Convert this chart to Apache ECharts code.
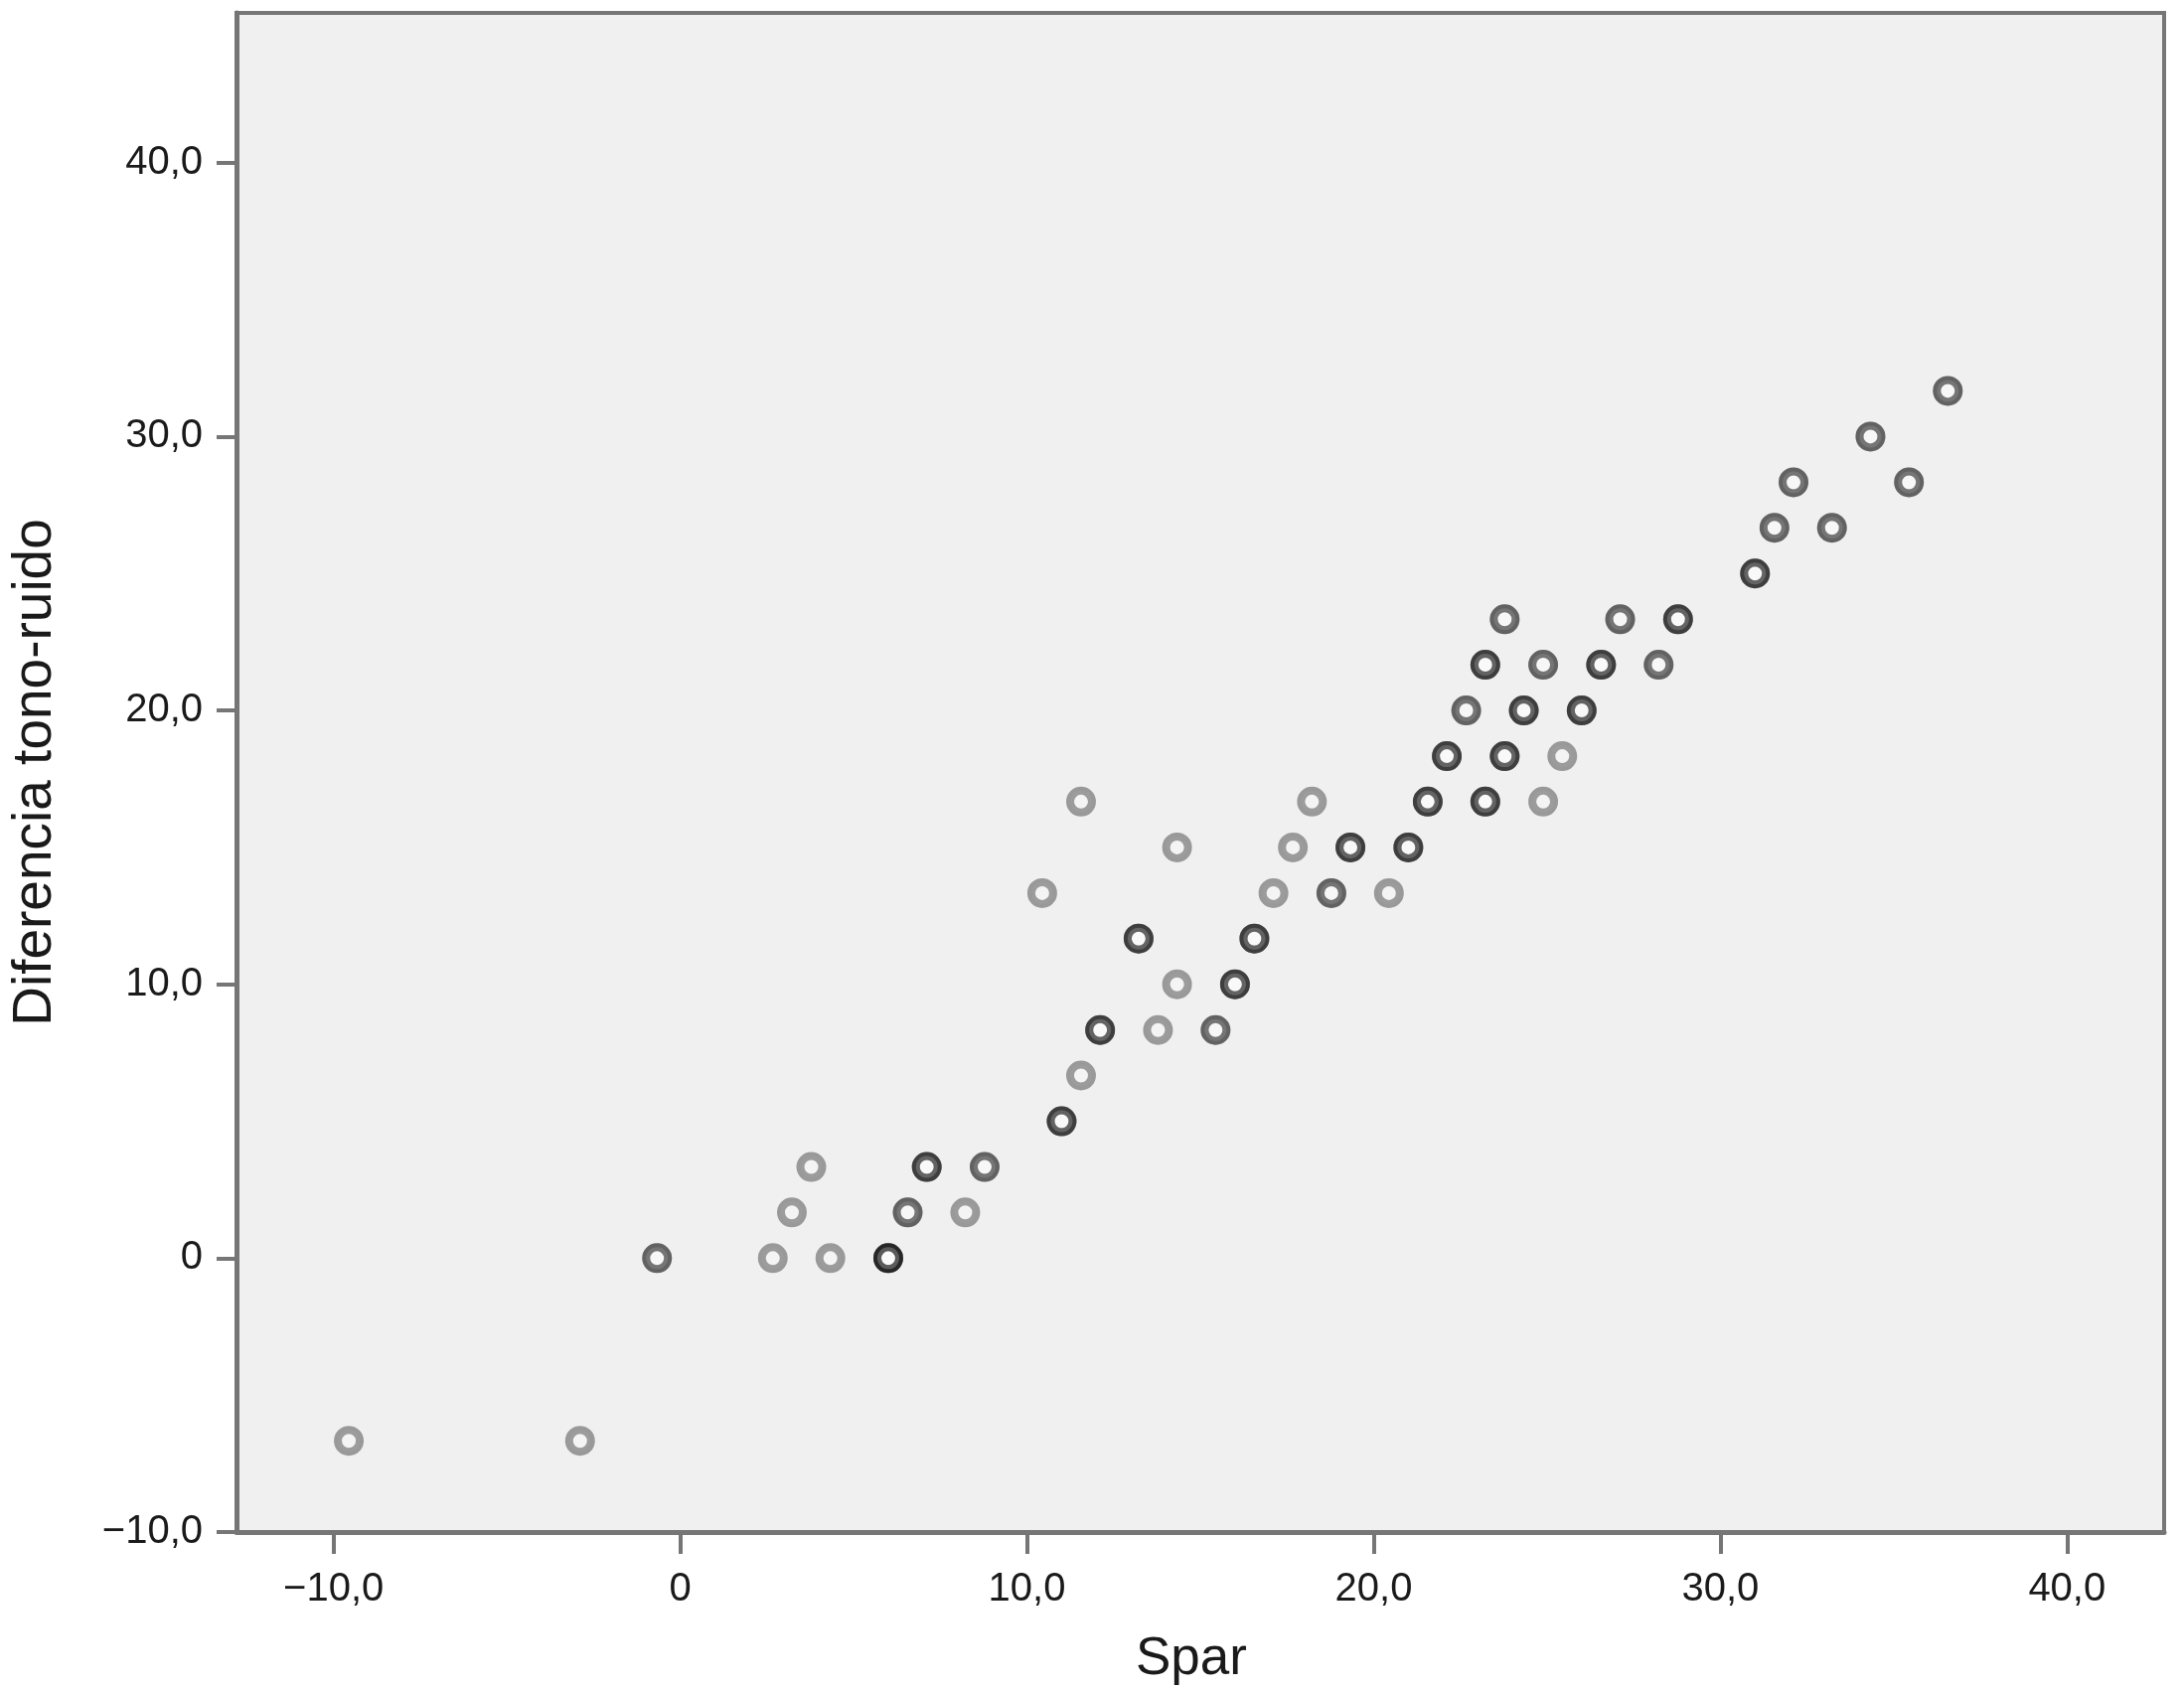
<!DOCTYPE html>
<html>
<head>
<meta charset="utf-8">
<title>Spar vs Diferencia tono-ruido</title>
<script src="https://cdn.jsdelivr.net/npm/echarts@6/dist/echarts.min.js"></script>
<style>
  html, body { margin: 0; padding: 0; background: #fff; }
  #chart { width: 2198px; height: 1702px; }
</style>
</head>
<body>
<div id="chart"></div>
<script>
// one entry per plotted position; caseCounts = how many cases overlap there
const sparValues = [
  -9.56, -2.89, -0.67, 2.67, 4.33, 6.0, 3.22, 6.56, 8.22, 3.78,
  7.11, 8.78, 11.0, 11.56, 12.11, 13.78, 15.44, 14.33, 16.0, 13.22,
  16.56, 10.44, 17.11, 18.78, 20.44, 14.33, 17.67, 19.33, 21.0, 11.56,
  18.22, 21.56, 23.22, 24.89, 22.11, 23.78, 25.44, 22.67, 24.33, 26.0,
  23.22, 24.89, 26.56, 28.22, 23.78, 27.11, 28.78, 31.0, 31.56, 33.22,
  32.11, 35.44, 34.33, 36.56
]
const diffValues = [
  -6.67, -6.67, 0, 0, 0, 0, 1.67, 1.67, 1.67, 3.33,
  3.33, 3.33, 5.0, 6.67, 8.33, 8.33, 8.33, 10.0, 10.0, 11.67,
  11.67, 13.33, 13.33, 13.33, 13.33, 15.0, 15.0, 15.0, 15.0, 16.67,
  16.67, 16.67, 16.67, 16.67, 18.33, 18.33, 18.33, 20.0, 20.0, 20.0,
  21.67, 21.67, 21.67, 21.67, 23.33, 23.33, 23.33, 25.0, 26.67, 26.67,
  28.33, 28.33, 30.0, 31.67
]
const caseCounts = [
  1, 1, 2, 1, 1, 4, 1, 2, 1, 1,
  3, 2, 3, 1, 3, 1, 2, 1, 3, 3,
  3, 1, 1, 2, 1, 1, 1, 3, 3, 1,
  1, 3, 3, 1, 3, 3, 1, 2, 3, 3,
  3, 2, 3, 2, 2, 2, 3, 3, 2, 2,
  2, 2, 2, 2
]
const xTicks = [-10, 0, 10, 20, 30, 40]
const yTicks = [-10, 0, 10, 20, 30, 40]

// overlapping cases are drawn on top of each other so the rings get darker
const points = []
sparValues.forEach((x, i) => {
  for (let n = 0; n < caseCounts[i]; n++) points.push([x, diffValues[i]])
})

const fmt = (v) => {
  if (v === 0) return '0'
  return (v < 0 ? '\u2212' : '') + Math.abs(v).toFixed(1).replace('.', ',')
}

const axisColor = '#767676'
const font = '"Liberation Sans", Arial, Helvetica, sans-serif'

const chart = echarts.init(document.getElementById('chart'))

const option = {
  animation: false,
  backgroundColor: '#ffffff',
  grid: {
    left: 232,
    right: 20,
    top: 13,
    bottom: 159,
    show: true,
    backgroundColor: '#f0f0f0',
    borderColor: axisColor,
    borderWidth: 4,
  },
  xAxis: {
    type: 'value',
    min: -12.8,
    max: 42.8,
    name: 'Spar',
    nameLocation: 'middle',
    nameGap: 102,
    nameTextStyle: {
      fontFamily: font,
      fontSize: 53,
      color: '#1a1a1a',
      padding: [0, 18, 0, 0],
    },
    splitLine: { show: false },
    axisLine: { show: true, onZero: false, lineStyle: { color: axisColor, width: 5 } },
    axisTick: {
      show: true,
      length: 22,
      customValues: xTicks,
      lineStyle: { color: axisColor, width: 4 },
    },
    axisLabel: {
      customValues: xTicks,
      margin: 38,
      fontFamily: font,
      fontSize: 40,
      color: '#1a1a1a',
      formatter: fmt,
    },
  },
  yAxis: {
    type: 'value',
    min: -10,
    max: 45.47,
    name: 'Diferencia tono-ruido',
    nameLocation: 'middle',
    nameGap: 175,
    nameTextStyle: {
      fontFamily: font,
      fontSize: 55,
      color: '#1a1a1a',
    },
    splitLine: { show: false },
    axisLine: { show: true, onZero: false, lineStyle: { color: axisColor, width: 5 } },
    axisTick: {
      show: true,
      length: 20,
      customValues: yTicks,
      lineStyle: { color: axisColor, width: 4 },
    },
    axisLabel: {
      customValues: yTicks,
      margin: 34,
      fontFamily: font,
      fontSize: 40,
      color: '#1a1a1a',
      formatter: fmt,
    },
  },
  series: [
    {
      type: 'scatter',
      data: points,
      symbol: 'circle',
      symbolSize: 22,
      itemStyle: {
        color: 'rgba(255,255,255,0.35)',
        borderColor: 'rgba(0,0,0,0.45)',
        borderWidth: 8,
      },
    },
  ],
}

chart.setOption(option)
</script>
</body>
</html>
